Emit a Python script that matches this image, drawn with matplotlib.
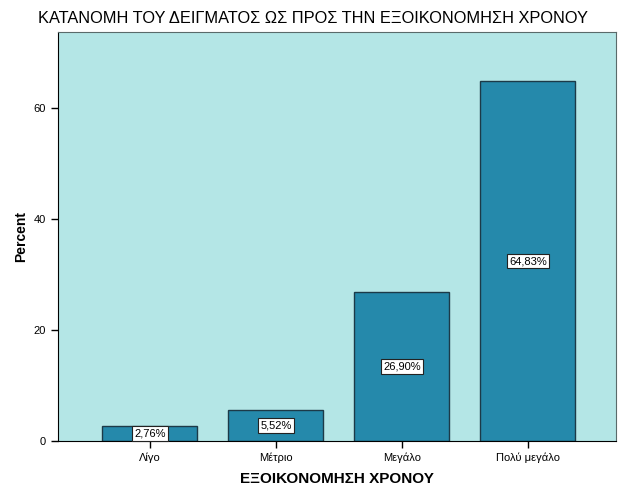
import matplotlib.pyplot as plt
import numpy as np

plt.rcParams['font.family'] = ['Liberation Sans', 'DejaVu Sans']

categories = ["Λίγο", "Μέτριο", "Μεγάλο", "Πολύ μεγάλο"]
percent = [2.76, 5.52, 26.90, 64.83]
labels = ["2,76%", "5,52%", "26,90%", "64,83%"]

fig = plt.figure(figsize=(6.26, 5.01), dpi=100)
ax = fig.add_axes([0.0927, 0.1198, 0.8913, 0.8162])
ax.set_facecolor("#b4e6e6")

x = np.arange(len(categories))
ax.bar(x, percent, width=0.754, color="#2589ab", edgecolor="#1c3a48", linewidth=1.0)

for xi, v, lab in zip(x, percent, labels):
    ax.text(xi, v / 2, lab, ha="center", va="center", fontsize=8,
            bbox=dict(boxstyle="square,pad=0.2", facecolor="white", edgecolor="#222222", linewidth=0.8))

ax.set_xlim(-0.73, 3.70)
ax.set_ylim(0, 73.7)
ax.set_yticks([0, 20, 40, 60])
ax.set_xticks(x)
ax.set_xticklabels(categories)
ax.tick_params(axis="both", labelsize=8, length=5, width=1, direction="out", color="black")

for side in ["top", "right"]:
    ax.spines[side].set_color("#5a6a6a")
for side in ["left", "bottom"]:
    ax.spines[side].set_color("black")

ax.set_xlabel("ΕΞΟΙΚΟΝΟΜΗΣΗ ΧΡΟΝΟΥ", fontsize=11, fontweight="bold", labelpad=6)
ax.set_ylabel("Percent", fontsize=10, fontweight="bold", labelpad=4)

fig.text(0.061, 0.963, "ΚΑΤΑΝΟΜΗ ΤΟΥ ΔΕΙΓΜΑΤΟΣ ΩΣ ΠΡΟΣ ΤΗΝ ΕΞΟΙΚΟΝΟΜΗΣΗ ΧΡΟΝΟΥ",
         fontsize=11.8, ha="left", va="center")

fig.savefig("out.png", dpi=100)
